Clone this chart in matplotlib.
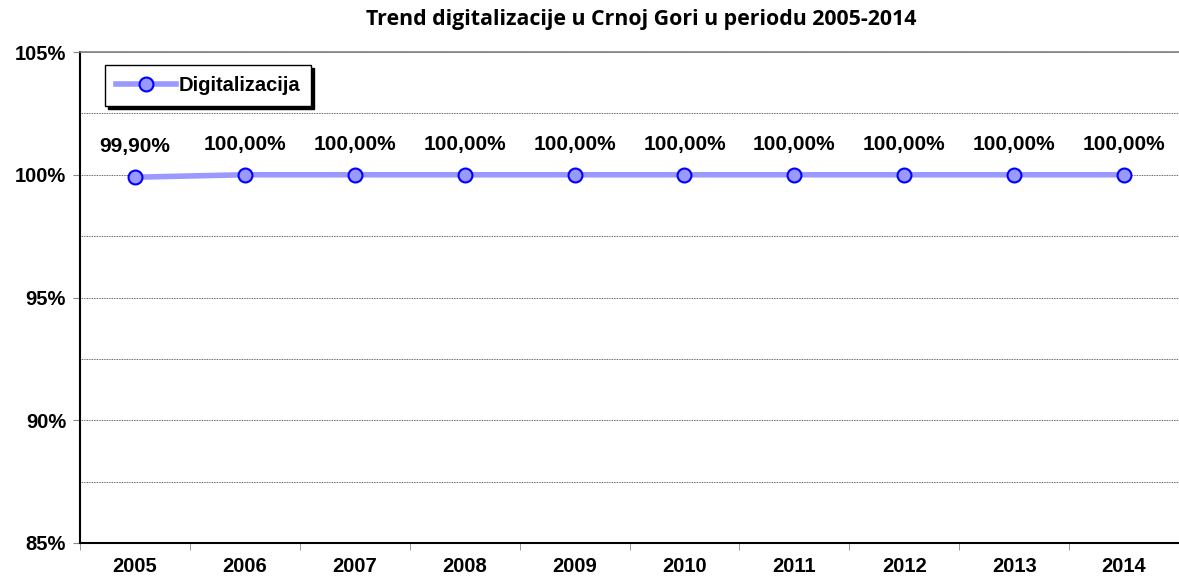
import matplotlib
matplotlib.use("Agg")
import matplotlib.pyplot as plt
from matplotlib.ticker import MultipleLocator, FuncFormatter

years = ["2005", "2006", "2007", "2008", "2009", "2010", "2011", "2012", "2013", "2014"]
values = [99.90, 100.00, 100.00, 100.00, 100.00, 100.00, 100.00, 100.00, 100.00, 100.00]
labels = ["99,90%", "100,00%", "100,00%", "100,00%", "100,00%", "100,00%", "100,00%", "100,00%", "100,00%", "100,00%"]
series_name = "Digitalizacija"
title = "Trend digitalizacije u Crnoj Gori u periodu 2005-2014"

fig = plt.figure(figsize=(11.79, 5.8), dpi=100)
ax = fig.add_axes([80/1179, 37/580, 1 - 80/1179, (543-52)/580])

x = list(range(len(years)))
line, = ax.plot(x, values, color="#9999FF", lw=4, marker="o", ms=10,
                mfc="#9999FF", mec="#0000FF", mew=1.5, label=series_name, zorder=3, clip_on=False)

for xi, v, lab in zip(x, values, labels):
    ax.annotate(lab, (xi, v), xytext=(0, 15), textcoords="offset points", ha="center", va="bottom",
                fontsize=15, fontweight="bold", family="Liberation Sans")

ax.set_xlim(-0.5, len(years) - 0.5)
ax.set_ylim(85, 105)
ax.yaxis.set_major_locator(MultipleLocator(5))
ax.yaxis.set_minor_locator(MultipleLocator(2.5))
ax.yaxis.set_major_formatter(FuncFormatter(lambda v, p: f"{v:.0f}%"))
ax.grid(axis="y", which="both", color="#333333", ls=(0, (1, 1)), lw=0.6)
ax.set_axisbelow(True)

ax.set_xticks(x)
ax.set_xticklabels(years)
ax.set_xticks([i - 0.5 for i in range(len(years) + 1)], minor=True)
ax.tick_params(axis="x", which="major", length=0, pad=10)
ax.tick_params(axis="x", which="minor", length=5, color="#888888")
ax.tick_params(axis="y", which="major", length=5, color="#888888", pad=5)
ax.tick_params(axis="y", which="minor", length=0)
for lab in ax.get_xticklabels() + ax.get_yticklabels():
    lab.set_fontsize(14.5)
    lab.set_fontweight("bold")
    lab.set_family("Liberation Sans")

ax.spines["left"].set_color("#000000")
ax.spines["left"].set_linewidth(1.5)
ax.spines["bottom"].set_color("#000000")
ax.spines["bottom"].set_linewidth(1.5)
ax.spines["top"].set_color("#808080")
ax.spines["top"].set_linewidth(1.2)
ax.spines["right"].set_visible(False)

fig.text(641/1179, 1 - 20/580, title, ha="center", va="center", fontsize=15.4,
         fontweight="bold", family="Open Sans")

leg = ax.legend(loc="upper left", bbox_to_anchor=(25/1099, 1 - 13/491), frameon=True,
                fancybox=False, shadow={"color": "black", "alpha": 1}, borderpad=0.55,
                handlelength=3.0, handletextpad=0.1, borderaxespad=0,
                prop={"family": "Liberation Sans", "weight": "bold", "size": 14.5})
leg.get_frame().set_edgecolor("#000000")
leg.get_frame().set_linewidth(1.0)

fig.savefig("out.png", dpi=100)
